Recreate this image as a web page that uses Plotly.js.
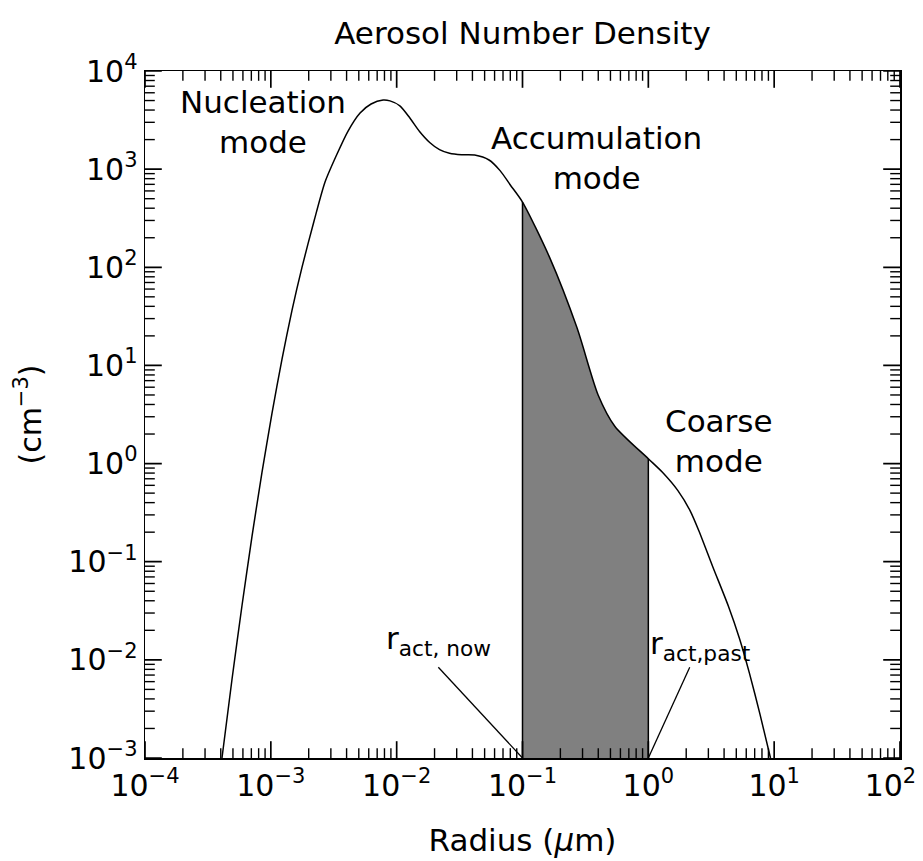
<!DOCTYPE html>
<html><head><meta charset="utf-8">
<script src="https://cdn.plot.ly/plotly-3.0.1.min.js"></script>
<style>html,body{margin:0;padding:0;background:#fff}#chart{width:923px;height:861px}</style>
</head><body><div id="chart"></div>
<script>
// Aerosol number density curve (radius in micrometres, density in cm^-3)
const radius  = [4.09e-4, 4.914e-4, 5.904e-4, 7.09e-4, 8.51e-4, 1.022e-3, 1.227e-3, 1.474e-3, 1.770e-3, 2.205e-3,
                 2.696e-3, 3.358e-3, 4.109e-3, 5.117e-3, 6.26e-3, 7.80e-3, 8.85e-3, 1.06e-2, 1.27e-2, 1.52e-2,
                 1.83e-2, 2.19e-2, 2.63e-2, 3.28e-2, 4.17e-2, 5.42e-2, 6.66e-2, 8.0e-2, 0.1, 0.1648,
                 0.2716, 0.399, 0.543, 1.0, 1.30, 1.718, 2.15, 2.52, 3.25, 4.33, 5.30, 6.35, 7.71, 9.35];
const density = [1e-3, 6.34e-3, 0.0360, 0.182, 0.817, 3.26, 11.6, 36.6, 100.5, 296,
                 739, 1426, 2445, 3733, 4613, 5058, 4960, 4420, 3340, 2420,
                 1870, 1580, 1450, 1400, 1390, 1239, 960, 690, 462, 124.7,
                 24.0, 5.0, 2.39, 1.12, 0.81, 0.53, 0.33, 0.207, 0.089, 0.0352, 0.0165, 0.00736, 0.0028, 1e-3];
const rActNow = 0.1;
const rActPast = 1.0;
const axisFloor = 1e-3;

const xTickVals = [1e-4, 1e-3, 1e-2, 1e-1, 1, 10, 100];
const xTickLabels = ['10<sup>−4</sup>','10<sup>−3</sup>','10<sup>−2</sup>','10<sup>−1</sup>','10<sup>0</sup>','10<sup>1</sup>','10<sup>2</sup>\u00a0\u00a0'];
const yTickVals = [1e-3, 1e-2, 1e-1, 1, 10, 100, 1000, 10000];
const yTickLabels = ['10<sup>−3</sup>','10<sup>−2</sup>','10<sup>−1</sup>','10<sup>0</sup>','10<sup>1</sup>','10<sup>2</sup>','10<sup>3</sup>','10<sup>4</sup>'];

const titleText = 'Aerosol Number Density';
const xTitle = 'Radius (<i>μ</i>m)';
const yTitle = '(cm<sup>−3</sup>)';
const modeLabels = ['Nucleation<br>mode', 'Accumulation<br>mode', 'Coarse<br>mode'];
const rLabels = ['r<sub>act, now</sub>', 'r<sub>act,past</sub>'];

const FONT = 'DejaVu Sans, Arial, sans-serif';
const X_RANGE = [-4, 2], Y_RANGE = [-3, 4];
const MARGIN = {l: 145, r: 23, t: 71, b: 103};
const W = 923, H = 861;

// minor tick positions (2..9 within each decade)
function minorTicks(majors) {
  const out = [];
  for (let i = 0; i < majors.length - 1; i++) for (let k = 2; k <= 9; k++) out.push(majors[i] * k);
  return out;
}

// tick marks as line-symbol markers centred on the frame; the outer half is clipped by the plot area
function tickMarkers(xVals, yVals, len, width) {
  const lo = v => Math.pow(10, v);
  const xs = [], ys = [];
  xVals.forEach(v => { xs.push(v, v); ys.push(lo(Y_RANGE[0]), lo(Y_RANGE[1])); });
  const hx = [], hy = [];
  yVals.forEach(v => { hy.push(v, v); hx.push(lo(X_RANGE[0]), lo(X_RANGE[1])); });
  return [
    {x: xs, y: ys, mode: 'markers', cliponaxis: true, hoverinfo: 'skip',
     marker: {symbol: 'line-ns-open', size: 2 * len, color: 'black', line: {color: 'black', width: width}}},
    {x: hx, y: hy, mode: 'markers', cliponaxis: true, hoverinfo: 'skip',
     marker: {symbol: 'line-ew-open', size: 2 * len, color: 'black', line: {color: 'black', width: width}}}
  ];
}

// shaded band between the two activation radii
const shadeX = [], shadeY = [];
radius.forEach((r, i) => { if (r >= rActNow && r <= rActPast) { shadeX.push(r); shadeY.push(density[i]); } });
const nNow = density[radius.indexOf(rActNow)];
const nPast = density[radius.indexOf(rActPast)];

const traces = [
  {x: [rActNow, rActPast], y: [axisFloor, axisFloor], mode: 'lines', line: {width: 0, color: 'black'}, hoverinfo: 'skip'},
  {x: shadeX, y: shadeY, mode: 'lines', fill: 'tonexty', fillcolor: '#808080',
   line: {width: 0, shape: 'spline', smoothing: 0.7, color: '#808080'}, hoverinfo: 'skip'},
  {x: radius, y: density, mode: 'lines', line: {color: 'black', width: 1.5, shape: 'spline', smoothing: 0.7}},
  {x: [rActNow, rActNow, null, rActPast, rActPast], y: [axisFloor, nNow, null, axisFloor, nPast],
   mode: 'lines', line: {color: 'black', width: 1.5}, hoverinfo: 'skip'},
  // leader lines from labels to the activation radii
  {x: [Math.pow(10, -1.669), rActNow], y: [Math.pow(10, -2.075), axisFloor], mode: 'lines', line: {color: 'black', width: 1.3}, hoverinfo: 'skip'},
  {x: [Math.pow(10, 0.329), rActPast], y: [Math.pow(10, -2.075), axisFloor], mode: 'lines', line: {color: 'black', width: 1.3}, hoverinfo: 'skip'}
].concat(tickMarkers(minorTicks(xTickVals), minorTicks(yTickVals), 7, 1.4))
 .concat(tickMarkers(xTickVals, yTickVals, 12, 1.7));

const layout = {
  width: W, height: H,
  margin: MARGIN,
  paper_bgcolor: 'white', plot_bgcolor: 'white',
  showlegend: false,
  font: {family: FONT, color: 'black', size: 31},
  title: {text: titleText, font: {family: FONT, size: 31, color: 'black'}, x: 0.5, xref: 'paper', xanchor: 'center', y: 1 - 33/861, yref: 'container', yanchor: 'middle'},
  xaxis: {type: 'log', range: X_RANGE, tickmode: 'array', tickvals: xTickVals, ticktext: xTickLabels, ticks: '',
    mirror: true, showline: true, linecolor: '#000000', linewidth: 1.5, showgrid: false, zeroline: false, ticklabeloverflow: 'allow',
    tickfont: {family: FONT, size: 30, color: 'black'},
    title: {text: xTitle, font: {family: FONT, size: 31, color: 'black'}, standoff: 28}},
  yaxis: {type: 'log', range: Y_RANGE, tickmode: 'array', tickvals: yTickVals, ticktext: yTickLabels, ticks: '',
    mirror: true, showline: true, linecolor: '#000000', linewidth: 1.5, showgrid: false, zeroline: false, ticklabeloverflow: 'allow',
    tickfont: {family: FONT, size: 30, color: 'black'},
    title: {text: yTitle, font: {family: FONT, size: 30, color: 'black'}, standoff: 18}},
  annotations: [
    {text: modeLabels[0], x: -3.062, y: 3.48, xref: 'x', yref: 'y', showarrow: false, xanchor: 'center', yanchor: 'middle', font: {size: 31}},
    {text: modeLabels[1], x: -0.411, y: 3.113, xref: 'x', yref: 'y', showarrow: false, xanchor: 'center', yanchor: 'middle', font: {size: 31}},
    {text: modeLabels[2], x: 0.563, y: 0.23, xref: 'x', yref: 'y', showarrow: false, xanchor: 'center', yanchor: 'middle', font: {size: 31}},
    {text: rLabels[0], x: -1.671, y: -1.80, xref: 'x', yref: 'y', showarrow: false, xanchor: 'center', yanchor: 'middle', font: {size: 31}},
    {text: rLabels[1], x: 0.412, y: -1.851, xref: 'x', yref: 'y', showarrow: false, xanchor: 'center', yanchor: 'middle', font: {size: 31}}
  ]
};

Plotly.newPlot('chart', traces, layout, {displayModeBar: false, staticPlot: true});
</script>
</body></html>
